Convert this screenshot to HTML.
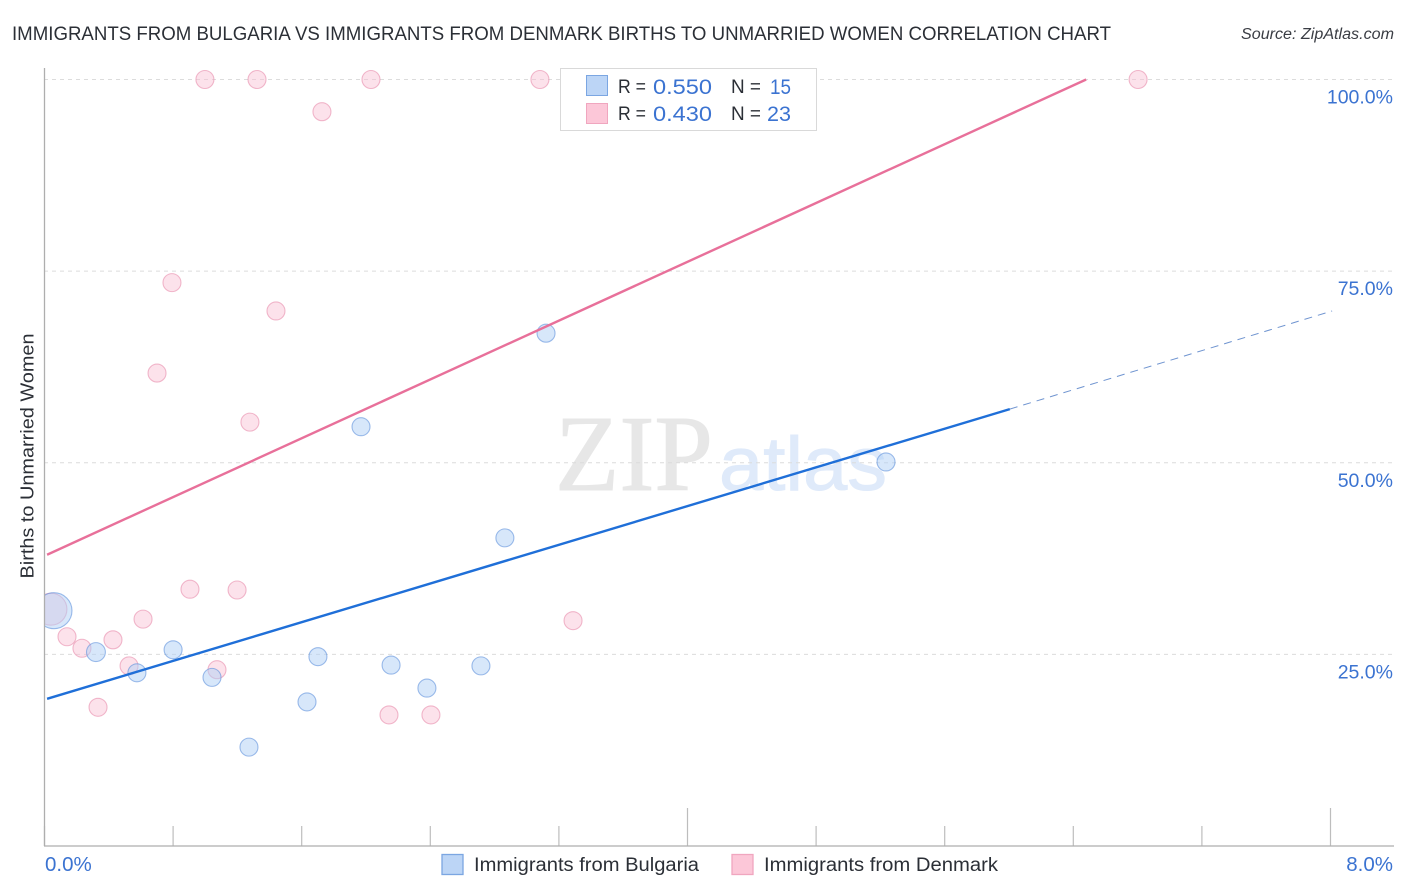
<!DOCTYPE html>
<html>
<head>
<meta charset="utf-8">
<title>Immigrants from Bulgaria vs Immigrants from Denmark Births to Unmarried Women Correlation Chart</title>
<style>
html,body{margin:0;padding:0;background:#fff;}
svg{display:block;font-family:"Liberation Sans",sans-serif;}
</style>
</head>
<body>
<svg id="chart" xmlns="http://www.w3.org/2000/svg" width="1406" height="892" viewBox="0 0 1406 892">
  <defs><clipPath id="plot-clip"><rect x="44" y="60" width="1350" height="786"/></clipPath></defs>
  <rect x="0" y="0" width="1406" height="892" fill="#ffffff"/>
  <text x="12" y="40" font-size="19.5" fill="#2b2f36" textLength="1099" lengthAdjust="spacingAndGlyphs">IMMIGRANTS FROM BULGARIA VS IMMIGRANTS FROM DENMARK BIRTHS TO UNMARRIED WOMEN CORRELATION CHART</text>
  <text x="1241" y="39" font-size="15.5" font-style="italic" fill="#3a3d44" textLength="153" lengthAdjust="spacingAndGlyphs">Source: ZipAtlas.com</text>
  <text x="555" y="490" font-size="108" fill="#e7e7e7" stroke="#e7e7e7" stroke-width="1" font-family="'Liberation Serif',serif" textLength="158" lengthAdjust="spacingAndGlyphs">ZIP</text>
  <text x="719" y="490" font-size="76" fill="#dfeafa" stroke="#dfeafa" stroke-width="1" textLength="168" lengthAdjust="spacingAndGlyphs">atlas</text>
  <g id="grid"></g>
  <g id="ticks"></g>
  <g id="points" clip-path="url(#plot-clip)"></g>
  <g id="trends"></g>
  <line x1="44.5" y1="68" x2="44.5" y2="846" stroke="#aeaeae" stroke-width="1.3"/>
  <line x1="44" y1="846" x2="1394" y2="846" stroke="#aeaeae" stroke-width="1.3"/>
  <g id="labels"></g>
  <text transform="translate(33.5,456) rotate(-90)" text-anchor="middle" font-size="18.5" fill="#2b2f36" textLength="245" lengthAdjust="spacingAndGlyphs">Births to Unmarried Women</text>

  <g>
    <rect x="560.5" y="68.5" width="256" height="62" fill="#ffffff" stroke="#d9d9d9"/>
    <rect x="586.5" y="75.5" width="21" height="20" fill="#bcd5f6" stroke="#7ba6e2"/>
    <rect x="586.5" y="103.5" width="21" height="20" fill="#fcc7d8" stroke="#f0a6bf"/>
    <text x="618" y="93" font-size="19" fill="#2b2f36" textLength="28" lengthAdjust="spacingAndGlyphs">R =</text>
    <text x="653" y="94" font-size="21" fill="#3b73d1" textLength="59" lengthAdjust="spacingAndGlyphs">0.550</text>
    <text x="731" y="93" font-size="19" fill="#2b2f36" textLength="30" lengthAdjust="spacingAndGlyphs">N =</text>
    <text x="770" y="94" font-size="21" fill="#3b73d1" textLength="21" lengthAdjust="spacingAndGlyphs">15</text>
    <text x="618" y="120" font-size="19" fill="#2b2f36" textLength="28" lengthAdjust="spacingAndGlyphs">R =</text>
    <text x="653" y="121" font-size="21" fill="#3b73d1" textLength="59" lengthAdjust="spacingAndGlyphs">0.430</text>
    <text x="731" y="120" font-size="19" fill="#2b2f36" textLength="30" lengthAdjust="spacingAndGlyphs">N =</text>
    <text x="767" y="121" font-size="21" fill="#3b73d1" textLength="24" lengthAdjust="spacingAndGlyphs">23</text>
  </g>

  <g>
    <rect x="442" y="854.5" width="21" height="20" fill="#bcd5f6" stroke="#7ba6e2" stroke-width="1.3"/>
    <text x="474" y="871" font-size="19" fill="#2b2f36" textLength="225" lengthAdjust="spacingAndGlyphs">Immigrants from Bulgaria</text>
    <rect x="732" y="854.5" width="21" height="20" fill="#fcc7d8" stroke="#f0a6bf" stroke-width="1.3"/>
    <text x="764" y="871" font-size="19" fill="#2b2f36" textLength="234" lengthAdjust="spacingAndGlyphs">Immigrants from Denmark</text>
  </g>
</svg>
<script>
const bulgariaX = [0.059,0.32,0.575,0.80,1.042,1.272,1.633,1.701,1.969,2.156,2.379,2.715,2.864,3.12,5.235];
const bulgariaY = [30.7,25.3,22.6,25.6,22.0,12.9,18.8,24.7,54.7,23.6,20.6,23.5,40.2,66.9,50.1];
const bulgariaWeight = [4,1.1,1,1,1,1,1,1,1,1,1,1,1,1,1];
const denmarkX = [0.04,0.14,0.233,0.426,0.333,0.526,0.613,0.905,1.073,1.198,0.70,0.793,1.278,1.44,0.998,1.322,1.726,2.031,3.082,2.143,2.404,3.288,6.803];
const denmarkY = [30.9,27.3,25.8,26.9,18.1,23.5,29.6,33.5,23.0,33.4,61.7,73.5,55.3,69.8,100,100,95.8,100,100,17.1,17.1,29.4,100];
const denmarkWeight = [3.16,1,1,1,1,1,1,1,1,1,1,1,1,1,1,1,1,1,1,1,1,1,1];
const bulgariaTrendX = [0.016,6.005];
const bulgariaTrendY = [19.2,57.0];
const bulgariaDashX = [6.005,8.01];
const bulgariaDashY = [57.0,69.8];
const denmarkTrendX = [0.016,6.48];
const denmarkTrendY = [38.0,100];
const yTicks = [100,75,50,25];
const yTickLabels = ["100.0%","75.0%","50.0%","25.0%"];
const xTicks = [0,0.8,1.6,2.4,3.2,4,4.8,5.6,6.4,7.2,8];
const xMajorTicks = [4,8];
const xEndTicks = [0,8];
const xEndLabels = ["0.0%","8.0%"];

const NS = 'http://www.w3.org/2000/svg';
function xScale(v){ return 44.5 + 160.75 * v; }
function yScale(v){ return 846 - 7.665 * v; }
function rScale(w){ return 9 * Math.sqrt(w); }
function mk(tag, parent){ const el = document.createElementNS(NS, tag); parent.appendChild(el); return el; }

const gridG = document.getElementById('grid');
yTicks.forEach(function(v){
  const l = mk('line', gridG);
  
  
  l.setAttribute('x1', 44); l.setAttribute('x2', 1394);
  l.setAttribute('y1', yScale(v)); l.setAttribute('y2', yScale(v));
  l.setAttribute('stroke', '#dcdcdc'); l.setAttribute('stroke-width', 1);
  l.setAttribute('stroke-dasharray', '4 4');
});

const tickG = document.getElementById('ticks');
xTicks.forEach(function(v){
  const l = mk('line', tickG);
  
  
  l.setAttribute('x1', xScale(v)); l.setAttribute('x2', xScale(v));
  l.setAttribute('y1', xMajorTicks.indexOf(v) >= 0 ? 808 : 826); l.setAttribute('y2', 846);
  l.setAttribute('stroke', '#bdbdbd'); l.setAttribute('stroke-width', 1.2);
});

const pointsG = document.getElementById('points');
function drawPoints(xs, ys, ws, fill, stroke, name){
  xs.forEach(function(x, i){
    const c = mk('circle', pointsG);
    
    
    c.setAttribute('cx', xScale(x)); c.setAttribute('cy', yScale(ys[i]));
    c.setAttribute('r', rScale(ws[i]));
    c.setAttribute('fill', fill); c.setAttribute('stroke', stroke);
    c.setAttribute('stroke-width', 1.1);
  });
}
drawPoints(denmarkX, denmarkY, denmarkWeight, 'rgba(248,190,210,0.45)', 'rgba(232,140,172,0.6)', 'denmark-point');
drawPoints(bulgariaX, bulgariaY, bulgariaWeight, 'rgba(175,207,245,0.5)', 'rgba(95,145,220,0.6)', 'bulgaria-point');

const trendG = document.getElementById('trends');
function drawTrend(xs, ys, color, width, dash, name){
  const l = mk('line', trendG);
  
  
  l.setAttribute('x1', xScale(xs[0])); l.setAttribute('y1', yScale(ys[0]));
  l.setAttribute('x2', xScale(xs[1])); l.setAttribute('y2', yScale(ys[1]));
  l.setAttribute('stroke', color); l.setAttribute('stroke-width', width);
  if (dash) l.setAttribute('stroke-dasharray', dash);
}
drawTrend(bulgariaDashX, bulgariaDashY, '#6f94d0', 1, '8 6', 'bulgaria-trend-extension');
drawTrend(bulgariaTrendX, bulgariaTrendY, '#1f6fd8', 2.4, null, 'bulgaria-trend-line');
drawTrend(denmarkTrendX, denmarkTrendY, '#e8709a', 2.4, null, 'denmark-trend-line');

const labelG = document.getElementById('labels');
yTicks.forEach(function(v, i){
  const t = mk('text', labelG);
  
  
  t.setAttribute('x', 1393); t.setAttribute('y', yScale(v) + 24);
  t.setAttribute('text-anchor', 'end'); t.setAttribute('font-size', 19.5);
  t.setAttribute('fill', '#3b73d1');
  t.textContent = yTickLabels[i];
});
xEndTicks.forEach(function(v, i){
  const t = mk('text', labelG);
  
  
  t.setAttribute('x', i === 0 ? xScale(v) + 0.5 : 1393); t.setAttribute('y', 871);
  t.setAttribute('text-anchor', i === 0 ? 'start' : 'end'); t.setAttribute('font-size', 20.5);
  t.setAttribute('fill', '#3b73d1');
  t.textContent = xEndLabels[i];
});
</script>
</body>
</html>
